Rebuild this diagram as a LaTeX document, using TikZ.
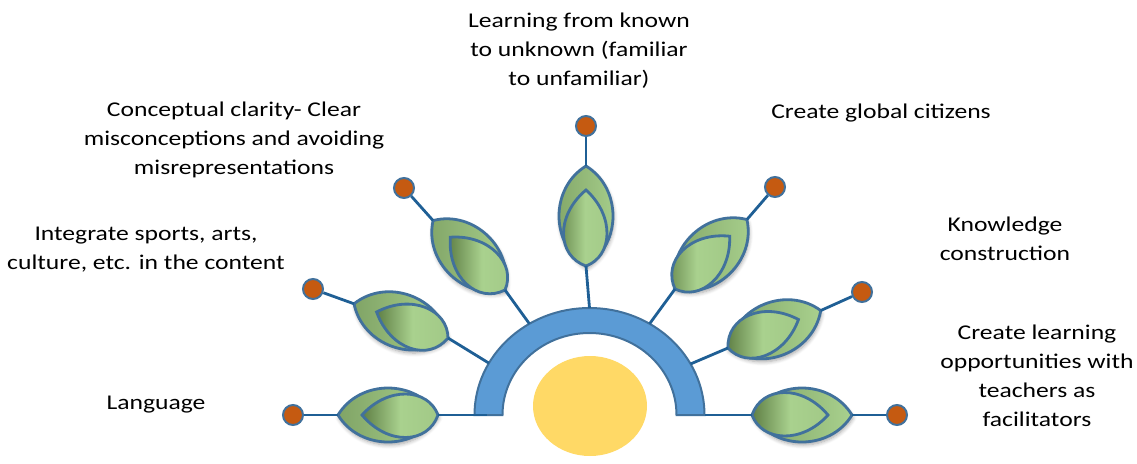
\documentclass[tikz,border=0pt]{standalone}
\usepackage{fontspec}
\setmainfont{Carlito}[FakeStretch=1.22]
\usetikzlibrary{shadows.blur}
\definecolor{leaflight}{HTML}{A9D18E}
\definecolor{leafdark}{HTML}{5F7F45}
\definecolor{leafedge}{HTML}{41719C}
\definecolor{stemblue}{HTML}{1F5F95}
\definecolor{dotfill}{HTML}{C55A11}
\definecolor{bandblue}{HTML}{5B9BD5}
\definecolor{sunyellow}{HTML}{FFD966}
\tikzset{%
  label/.style     = {align=center, font=\fontsize{10.5}{14.5}\selectfont},
  dot/.style       = {draw=leafedge, fill=dotfill, line width=1pt, circle,
    minimum size=10pt, inner sep=0pt},
  stem/.style      = {draw=stemblue, line width=1.4pt},
  outerleaf/.style = {draw=leafedge, line width=1.4pt,
    left color=leafdark!55!leaflight, right color=leaflight,
    blur shadow={shadow xshift=0.5pt, shadow yshift=-1.5pt, shadow blur steps=6, shadow opacity=35}},
  innerleaf/.style = {draw=leafedge, line width=1.4pt,
    left color=leafdark, right color=leaflight!90!leafdark, middle color=leaflight},
  band/.style      = {draw=leafedge, fill=bandblue, line width=1pt},
  sun/.style       = {fill=sunyellow}
}
% leaf: name, near tip, angle
\newcommand{\leaf}[3]{%
  \begin{scope}[shift={#2}, rotate=#3]
    \coordinate (#1near) at (0,0);
    \coordinate (#1far) at (100,0);
    \path[outerleaf] (0,0) .. controls (22,36) and (78,36) .. (100,0)
      .. controls (78,-36) and (22,-36) .. (0,0) -- cycle;
    \path[innerleaf] (0,0) .. controls (10,29) and (50,31) .. (76,0)
      .. controls (50,-29) and (10,-27) .. (0,0) -- cycle;
  \end{scope}}
\begin{document}
\begin{tikzpicture}[x=0.5pt, y=0.5pt]
  \useasboundingbox (0,0) rectangle (1137,463);

  \fill[sun] (590,57) ellipse [x radius=57, y radius=50];
  \coordinate (hub) at (589.5,48);
  \draw[band] (474.5,48) arc[start angle=180, end angle=0, x radius=115, y radius=107]
    -- (676.5,48) arc[start angle=0, end angle=180, x radius=87, y radius=82] -- cycle;
  \coordinate (a1) at (487,48);
  \path (hub) ++(151:115 and 107) coordinate (a2);
  \path (hub) ++(121.5:115 and 107) coordinate (a3);
  \path (hub) ++(90:115 and 107) coordinate (a4);
  \path (hub) ++(58.5:115 and 107) coordinate (a5);
  \path (hub) ++(28.5:115 and 107) coordinate (a6);
  \path (hub) ++(0:115 and 107) coordinate (a7);

  \leaf{l1}{(438,48)}{180}
  \leaf{l2}{(448,125)}{160}
  \leaf{l3}{(505,173)}{136}
  \leaf{l4}{(586,197)}{90}
  \leaf{l5}{(675,174)}{44}
  \leaf{l6}{(728,115)}{22}
  \leaf{l7}{(752,48)}{0}

  \draw node at (293,48) [dot] (d1) {};
  \draw node at (313,174) [dot] (d2) {};
  \draw node at (404,275) [dot] (d3) {};
  \draw node at (586,337) [dot] (d4) {};
  \draw node at (775,276) [dot] (d5) {};
  \draw node at (862,171) [dot] (d6) {};
  \draw node at (897,48) [dot] (d7) {};

  \draw[stem] (d1) -- (l1far);  \draw[stem] (l1near) -- (a1);
  \draw[stem] (d2) -- (l2far);  \draw[stem] (l2near) -- (a2);
  \draw[stem] (d3) -- (l3far);  \draw[stem] (l3near) -- (a3);
  \draw[stem] (d4) -- (l4far);  \draw[stem] (l4near) -- (a4);
  \draw[stem] (d5) -- (l5far);  \draw[stem] (l5near) -- (a5);
  \draw[stem] (d6) -- (l6far);  \draw[stem] (l6near) -- (a6);
  \draw[stem] (d7) -- (l7far);  \draw[stem] (l7near) -- (a7);

  \draw node at (156,58) [label] (t1) {Language};
  \draw node at (146,213) [label] (t2) {Integrate sports, arts,\\culture, etc. in the content};
  \draw node at (234,323) [label] (t3) {Conceptual clarity- Clear\\misconceptions and avoiding\\misrepresentations};
  \draw node at (579,412) [label] (t4) {Learning from known\\to unknown (familiar\\to unfamiliar)};
  \draw node at (881,350) [label] (t5) {Create global citizens};
  \draw node at (1005,224) [label] (t6) {Knowledge\\construction};
  \draw node at (1037,87) [label] (t7) {Create learning\\opportunities with\\teachers as\\facilitators};

\end{tikzpicture}
\end{document}
